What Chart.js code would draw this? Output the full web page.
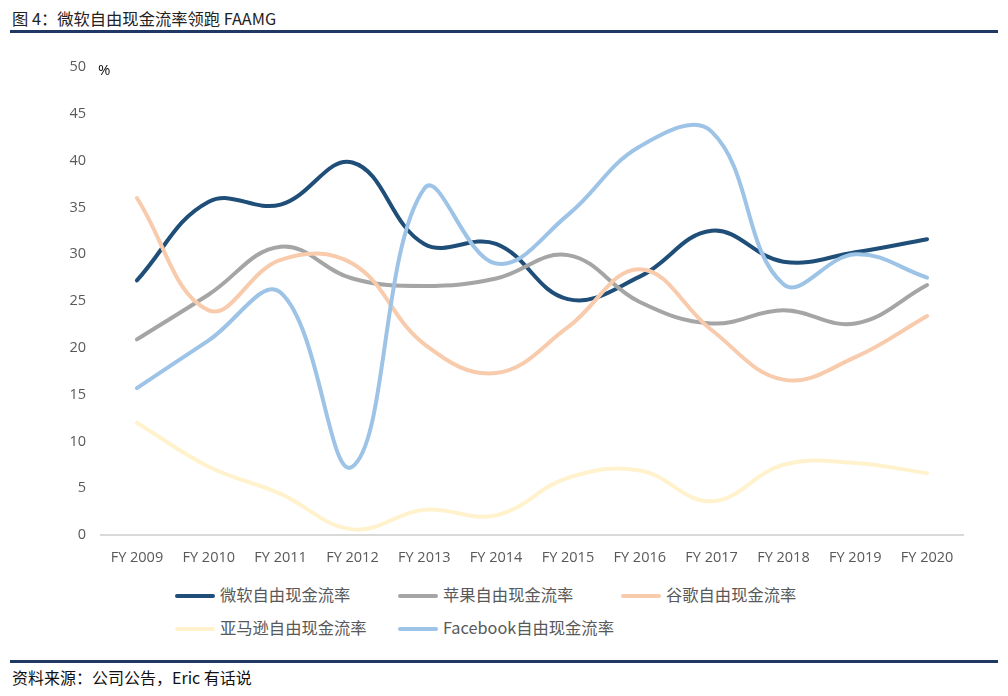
<!DOCTYPE html>
<html>
<head>
<meta charset="utf-8">
<script src="https://cdn.jsdelivr.net/npm/chart.js@4/dist/chart.umd.min.js"></script>
<style>
  body { margin:0; width:1008px; height:696px; background:#fff; position:relative; overflow:hidden;
         font-family:"Noto Sans CJK SC","Noto Sans",sans-serif; }
  #title { position:absolute; left:12px; top:6px; font-size:16.3px; color:#222; }
  .rule { position:absolute; left:10px; width:988px; height:3px; background:#203864; }
  #foot { position:absolute; left:12px; top:665px; font-size:16px; color:#111; }
  #box { position:absolute; left:0; top:40px; width:1008px; height:540px; }
  #unit { position:absolute; left:98px; top:59px; font-size:15px; color:#111; font-family:"Open Sans",sans-serif; }
  #legend { position:absolute; left:175px; top:582px; width:700px; }
  .item { position:absolute; font-size:16.3px; color:#595959; white-space:nowrap; }
  .item i { position:absolute; left:0; top:12px; width:40px; height:4px; border-radius:2px; }
  .item span { position:absolute; left:45px; top:0; }
</style>
</head>
<body>
<div id="title">图 4：微软自由现金流率领跑 FAAMG</div>
<div class="rule" style="top:30px"></div>
<div id="box"><canvas id="my_canvas"></canvas></div>
<div id="unit">%</div>
<div id="legend"></div>
<div class="rule" style="top:660px"></div>
<div id="foot">资料来源：公司公告，Eric 有话说</div>
<script>
var labels = ["FY 2009","FY 2010","FY 2011","FY 2012","FY 2013","FY 2014","FY 2015","FY 2016","FY 2017","FY 2018","FY 2019","FY 2020"]
var microsoft = [27.2, 35.6, 35.3, 39.8, 31.1, 31.1, 25.2, 27.6, 32.5, 29.2, 30.2, 31.6]
var apple     = [20.9, 25.7, 30.8, 27.4, 26.6, 27.4, 29.9, 24.9, 22.6, 24.0, 22.6, 26.7]
var google    = [36.0, 24.0, 29.4, 29.0, 20.4, 17.3, 22.2, 28.4, 21.9, 16.6, 19.0, 23.4]
var amazon    = [12.0, 7.3, 4.4, 0.6, 2.7, 2.1, 6.1, 6.9, 3.6, 7.5, 7.7, 6.6]
var facebook  = [15.7, 20.8, 25.9, 7.3, 37.0, 29.0, 34.2, 41.5, 43.1, 26.8, 30.0, 27.5]
var yTicks = [0,5,10,15,20,25,30,35,40,45,50]

var series = [
  {label:"微软自由现金流率", data:microsoft, color:"#1f4e79"},
  {label:"苹果自由现金流率", data:apple, color:"#a5a5a5"},
  {label:"谷歌自由现金流率", data:google, color:"#f8cbad"},
  {label:"亚马逊自由现金流率", data:amazon, color:"#fff2cc"},
  {label:"Facebook自由现金流率", data:facebook, color:"#9dc3e6"}
]

var datasets = series.map(function(s){
  return {label:s.label, data:s.data, borderColor:s.color, backgroundColor:s.color,
          borderWidth:4, pointRadius:0, tension:0.4, borderCapStyle:'round', fill:false}
})
// draw microsoft on top
datasets.reverse()

var tickFont = {family:"Open Sans", size:14.5}

new Chart(document.getElementById("my_canvas").getContext("2d"), {
  type:'line',
  data:{labels:labels, datasets:datasets},
  options:{
    responsive:true, maintainAspectRatio:false, animation:false,
    layout:{padding:{top:27, right:45, left:0, bottom:0}},
    plugins:{legend:{display:false}, tooltip:{enabled:false}},
    scales:{
      x:{offset:true,
         grid:{display:false, drawTicks:false},
         border:{color:"#d9d9d9", width:2},
         ticks:{color:"#595959", font:tickFont, padding:14, maxRotation:0, autoSkip:false},
         afterFit:function(scale){ scale.height = 45 }},
      y:{min:0, max:50,
         afterBuildTicks:function(scale){ scale.ticks = yTicks.map(function(v){ return {value:v} }) },
         grid:{display:false, drawTicks:false},
         border:{display:false},
         ticks:{color:"#595959", font:tickFont, padding:15},
         afterFit:function(scale){ scale.width = 101 }}
    }
  }
})

// legend, 3 columns
var legend = document.getElementById("legend")
series.forEach(function(s, i){
  var d = document.createElement("div")
  d.className = "item"
  d.style.left = (i % 3) * 223 + "px"
  d.style.top = Math.floor(i / 3) * 33 + "px"
  d.innerHTML = '<i style="background:' + s.color + '"></i><span>' + s.label + '</span>'
  legend.appendChild(d)
})
</script>
</body>
</html>
